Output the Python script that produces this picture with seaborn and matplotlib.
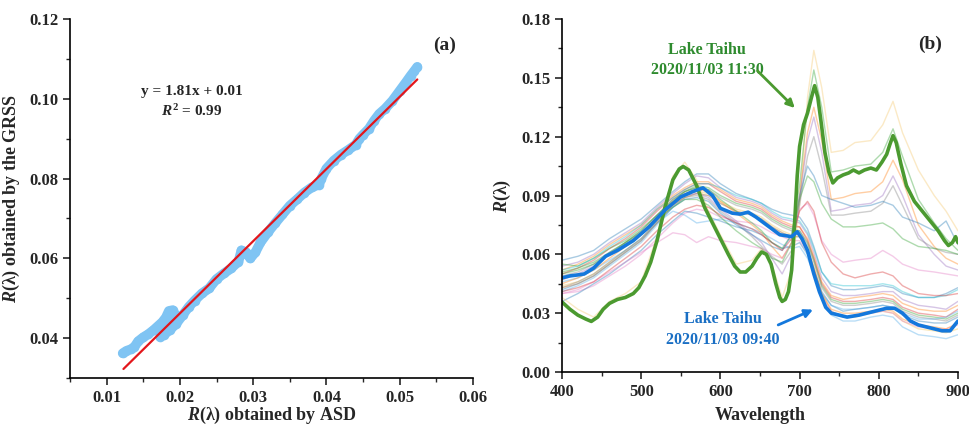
import matplotlib
matplotlib.use("Agg")
import matplotlib.pyplot as plt
from matplotlib.ticker import MultipleLocator, FormatStrFormatter
import seaborn as sns

# ---------------- panel (a): GRSS vs ASD reflectance ----------------
asd = [0.0122, 0.0127, 0.0133, 0.0138, 0.0143, 0.0150, 0.0157, 0.0164, 0.0170, 0.0176,
       0.0181, 0.0185, 0.0190, 0.0194, 0.0190, 0.0183, 0.0176, 0.0173, 0.0178, 0.0186,
       0.0195, 0.0204, 0.0212, 0.0220, 0.0230, 0.0240, 0.0250, 0.0260, 0.0270, 0.0280,
       0.0284, 0.0290, 0.0296, 0.0303, 0.0310, 0.0320, 0.0330, 0.0340, 0.0350, 0.0360,
       0.0370, 0.0380, 0.0390, 0.0393, 0.0400, 0.0410, 0.0420, 0.0430, 0.0440, 0.0445,
       0.0450, 0.0458, 0.0465, 0.0472, 0.0480, 0.0490, 0.0500, 0.0508, 0.0515, 0.0520,
       0.0524]
grss = [0.0362, 0.0368, 0.0372, 0.0378, 0.0392, 0.0402, 0.0410, 0.0420, 0.0430, 0.0440,
        0.0452, 0.0468, 0.0470, 0.0458, 0.0445, 0.0430, 0.0415, 0.0403, 0.0408, 0.0420,
        0.0436, 0.0458, 0.0478, 0.0494, 0.0512, 0.0525, 0.0548, 0.0562, 0.0575, 0.0592,
        0.0620, 0.0615, 0.0600, 0.0615, 0.0640, 0.0665, 0.0688, 0.0710, 0.0732, 0.0748,
        0.0765, 0.0778, 0.0785, 0.0800, 0.0825, 0.0845, 0.0860, 0.0872, 0.0885, 0.0900,
        0.0910, 0.0925, 0.0945, 0.0962, 0.0975, 0.0995, 0.1020, 0.1040, 0.1058, 0.1070,
        0.1080]
fit_slope = 1.81
fit_intercept = 0.01
fit_r2 = 0.99
fit_x = [0.0123, 0.0524]

# ---------------- panel (b): reflectance spectra ----------------
wl = [400, 420, 440, 460, 480, 500, 520, 540, 555, 570, 585, 600, 620, 640, 652,
      665, 678, 690, 700, 710, 718, 728, 740, 755, 770, 790, 805, 818, 830, 850,
      870, 885, 900]

spectra = [
    # clear-water type spectra
    ("#1f77b4", [.057, .059, .062, .068, .073, .078, .085, .092, .097, .101, .101, .096, .091, .088, .086,
                 .083, .081, .080, .079, .073, .064, .051, .044, .042, .042, .043, .044, .043, .040, .038,
                 .038, .040, .043]),
    ("#9467bd", [.054, .056, .060, .066, .071, .076, .084, .091, .096, .100, .099, .094, .089, .087, .085,
                 .081, .078, .077, .076, .070, .061, .048, .041, .039, .039, .040, .041, .041, .037, .034,
                 .033, .032, .036]),
    ("#ff7f0e", [.052, .055, .059, .065, .070, .075, .083, .090, .094, .097, .097, .093, .088, .086, .084,
                 .080, .077, .075, .074, .068, .059, .046, .039, .037, .038, .039, .040, .039, .035, .032,
                 .031, .031, .034]),
    ("#d62728", [.050, .053, .057, .063, .068, .074, .082, .089, .093, .096, .096, .092, .087, .085, .083,
                 .079, .076, .074, .074, .067, .058, .045, .038, .036, .036, .037, .038, .037, .033, .030,
                 .029, .028, .032]),
    ("#2ca02c", [.055, .054, .058, .063, .067, .073, .080, .088, .092, .095, .094, .090, .086, .084, .082,
                 .078, .075, .073, .072, .066, .057, .044, .037, .035, .035, .036, .037, .036, .032, .029,
                 .028, .027, .030]),
    ("#7f7f7f", [.049, .051, .055, .061, .066, .072, .080, .088, .092, .094, .093, .089, .085, .083, .081,
                 .077, .074, .072, .072, .065, .056, .043, .036, .034, .034, .035, .036, .035, .031, .028,
                 .027, .026, .029]),
    ("#f2c04a", [.044, .046, .050, .056, .062, .068, .077, .086, .090, .092, .091, .087, .083, .081, .079,
                 .075, .072, .070, .070, .063, .054, .040, .031, .028, .028, .030, .031, .030, .026, .022,
                 .021, .020, .022]),
    ("#4aa8e8", [.041, .044, .048, .054, .060, .066, .075, .084, .089, .091, .090, .086, .082, .080, .078,
                 .074, .071, .069, .069, .062, .053, .039, .029, .026, .026, .028, .029, .028, .023, .019,
                 .018, .017, .019]),
    ("#e377c2", [.040, .041, .044, .049, .054, .060, .068, .076, .081, .083, .082, .079, .077, .076, .074,
                 .071, .069, .067, .067, .061, .052, .039, .031, .028, .029, .030, .031, .030, .026, .023,
                 .022, .022, .024]),
    ("#1f77b4", [.036, .040, .045, .050, .056, .062, .070, .077, .082, .081, .079, .077, .074, .072, .070,
                 .066, .063, .064, .066, .060, .052, .041, .034, .031, .032, .033, .034, .033, .029, .026,
                 .025, .025, .028]),
    ("#4aa8e8", [.046, .048, .052, .057, .062, .068, .076, .082, .080, .076, .077, .078, .076, .073, .071,
                 .068, .065, .063, .064, .058, .050, .040, .034, .032, .032, .033, .034, .033, .030, .027,
                 .027, .028, .031]),
    ("#17becf", [.052, .054, .058, .064, .069, .075, .083, .089, .093, .096, .096, .094, .090, .088, .086,
                 .082, .079, .078, .077, .071, .063, .051, .045, .044, .044, .044, .045, .044, .041, .038,
                 .038, .039, .042]),
    ("#ff7f0e", [.043, .045, .049, .055, .061, .067, .076, .085, .089, .091, .090, .086, .082, .080, .078,
                 .074, .071, .069, .069, .062, .053, .040, .032, .030, .030, .031, .032, .031, .027, .024,
                 .023, .022, .025]),
    # bloom type spectra
    ("#f5c76a", [.038, .032, .028, .036, .040, .046, .069, .100, .107, .098, .082, .070, .055, .057, .063,
                 .055, .038, .052, .085, .140, .164, .145, .112, .113, .117, .118, .126, .138, .122, .103,
                 .090, .082, .072]),
    ("#2ca02c", [.050, .052, .055, .060, .066, .072, .080, .087, .092, .094, .093, .088, .082, .076, .072,
                 .066, .063, .070, .095, .135, .154, .135, .102, .103, .105, .106, .112, .124, .110, .088,
                 .076, .068, .062]),
    ("#ff7f0e", [.045, .048, .052, .058, .064, .070, .079, .087, .091, .093, .092, .087, .081, .075, .071,
                 .064, .058, .066, .090, .122, .135, .118, .088, .089, .091, .092, .097, .108, .098, .075,
                 .064, .058, .055]),
    ("#9467bd", [.047, .050, .054, .060, .065, .071, .079, .086, .090, .091, .089, .083, .077, .070, .066,
                 .058, .050, .060, .088, .118, .130, .112, .082, .083, .085, .086, .090, .100, .090, .070,
                 .060, .054, .052]),
    ("#7f7f7f", [.043, .046, .050, .056, .062, .068, .077, .085, .089, .090, .088, .082, .076, .069, .064,
                 .059, .055, .062, .085, .110, .120, .104, .080, .080, .081, .082, .086, .095, .085, .068,
                 .063, .061, .060]),
    ("#1f77b4", [.042, .045, .049, .055, .061, .067, .076, .084, .088, .089, .087, .081, .075, .070, .067,
                 .064, .062, .070, .090, .105, .100, .090, .088, .086, .084, .085, .087, .085, .079, .076,
                 .072, .077, .065]),
    ("#2ca02c", [.051, .053, .056, .061, .066, .071, .078, .084, .088, .088, .085, .079, .072, .066, .063,
                 .058, .056, .066, .088, .100, .097, .086, .078, .074, .074, .075, .076, .073, .068, .064,
                 .063, .062, .060]),
    ("#e377c2", [.040, .042, .046, .051, .056, .061, .066, .071, .070, .066, .069, .067, .066, .064, .063,
                 .060, .058, .066, .083, .086, .080, .067, .060, .056, .057, .058, .062, .059, .055, .052,
                 .051, .050, .049]),
    ("#d62728", [.041, .043, .046, .052, .058, .064, .072, .079, .083, .085, .084, .080, .076, .073, .070,
                 .066, .062, .068, .082, .087, .082, .066, .056, .050, .048, .050, .051, .049, .044, .040,
                 .039, .039, .040]),
]

# highlighted spectra
green_wl = [400, 410, 420, 430, 437, 445, 452, 460, 470, 480,
            490, 497, 505, 512, 520, 530, 540, 548, 553, 560,
            570, 580, 590, 600, 610, 618, 625, 632, 640, 646,
            652, 658, 664, 670, 675, 678, 682, 686, 690, 694,
            697, 700, 705, 710, 715, 719, 723, 727, 732, 737,
            742, 748, 755, 762, 768, 775, 782, 790, 797, 804,
            810, 814, 818, 822, 828, 835, 845, 855, 865, 875,
            883, 888, 893, 897, 900]
green_r = [.0357, .032, .029, .027, .0258, .028, .032, .035, .037, .038,
           .040, .043, .049, .056, .067, .084, .098, .1035, .1048, .103,
           .095, .084, .076, .068, .060, .054, .051, .051, .054, .058,
           .0612, .060, .055, .045, .038, .036, .037, .041, .052, .078,
           .100, .115, .126, .132, .140, .146, .140, .128, .112, .102,
           .0964, .099, .1005, .1015, .103, .1015, .103, .104, .103, .107,
           .111, .116, .1205, .117, .106, .095, .087, .082, .077, .072,
           .067, .0645, .066, .069, .066]
blue_wl = [400, 410, 420, 428, 440, 455, 470, 490, 510, 530,
           550, 565, 578, 590, 600, 615, 625, 635, 645, 660,
           675, 690, 697, 703, 710, 718, 725, 733, 740, 750,
           760, 775, 795, 810, 820, 830, 840, 850, 865, 880,
           890, 900]
blue_r = [.048, .049, .0495, .050, .053, .059, .062, .067, .074, .0826,
          .0893, .092, .0939, .090, .0835, .081, .0805, .0815, .079, .0745,
          .070, .069, .0715, .068, .062, .050, .041, .033, .030, .029,
          .028, .029, .031, .0325, .0325, .030, .026, .024, .0225, .021,
          .021, .026]
green_label = "Lake Taihu\n2020/11/03 11:30"
blue_label = "Lake Taihu\n2020/11/03 09:40"

# ---------------- style ----------------
sns.set_style("ticks")
plt.rcParams.update({
    "font.family": ["Liberation Serif", "DejaVu Serif"],
    "font.weight": "bold",
    "axes.labelweight": "bold",
    "mathtext.fontset": "custom",
    "mathtext.rm": "Liberation Serif:bold",
    "mathtext.it": "Liberation Serif:italic:bold",
    "mathtext.bf": "Liberation Serif:bold",
    "axes.linewidth": 1.2,
    "axes.edgecolor": "black",
})

GREEN = "#4b9a30"
GREEN_TXT = "#2e8b2e"
BLUE = "#1478dc"
BLUE_TXT = "#1a6fc4"
DOTS = "#7fc4f3"

fig = plt.figure(figsize=(9.69, 4.25), dpi=100)
ax1 = fig.add_axes([0.0722, 0.1106, 0.4159, 0.8447])
ax2 = fig.add_axes([0.5800, 0.1247, 0.4086, 0.8306])

# panel (a)
sns.lineplot(x=asd, y=grss, sort=False, estimator=None, ax=ax1, color=DOTS,
             lw=7, solid_capstyle="round", solid_joinstyle="round")
sns.scatterplot(x=asd, y=grss, ax=ax1, color=DOTS, s=48, linewidth=0, marker="o")
fit_y = [fit_slope * v + fit_intercept for v in fit_x]
sns.lineplot(x=fit_x, y=fit_y, ax=ax1, color="#e3161b", lw=1.6)

ax1.set_xlim(0.005, 0.06)
ax1.set_ylim(0.03, 0.12)
ax1.xaxis.set_major_locator(MultipleLocator(0.01))
ax1.xaxis.set_minor_locator(MultipleLocator(0.005))
ax1.yaxis.set_major_locator(MultipleLocator(0.02))
ax1.yaxis.set_minor_locator(MultipleLocator(0.01))
ax1.xaxis.set_major_formatter(FormatStrFormatter("%.2f"))
ax1.yaxis.set_major_formatter(FormatStrFormatter("%.2f"))
ax1.set_xlabel(r"$\mathit{R}$(λ) obtained by ASD", fontsize=13, labelpad=-1)
ax1.set_ylabel(r"$\mathit{R}$(λ) obtained by the GRSS", fontsize=13, labelpad=5)
ax1.text(0.0216, 0.1018, f"y = {fit_slope:.2f}x + {fit_intercept:.2f}",
         ha="center", va="center", fontsize=11, fontweight="bold")
ax1.text(0.0216, 0.0968, r"$\mathit{R}^{2}$" + f" = {fit_r2:.2f}",
         ha="center", va="center", fontsize=11, fontweight="bold")
ax1.text(0.0561, 0.1135, "(a)", ha="center", va="center", fontsize=14, fontweight="bold")

# panel (b)
for color, vals in spectra:
    sns.lineplot(x=wl, y=vals, ax=ax2, color=color, alpha=0.38, lw=1.0,
                 estimator=None, sort=False)
sns.lineplot(x=green_wl, y=green_r, ax=ax2, color=GREEN, lw=2.6, estimator=None, sort=False)
sns.lineplot(x=blue_wl, y=blue_r, ax=ax2, color=BLUE, lw=2.6, estimator=None, sort=False)

ax2.text(583, 0.159, green_label, ha="center", va="center", fontsize=11.5,
         fontweight="bold", color=GREEN_TXT, linespacing=1.35)
ax2.annotate("", xy=(694, 0.1346), xytext=(647, 0.1535),
             arrowprops=dict(arrowstyle="-|>", color=GREEN, lw=2, mutation_scale=12,
                             shrinkA=0, shrinkB=0))
ax2.text(603, 0.0217, blue_label, ha="center", va="center", fontsize=11.5,
         fontweight="bold", color=BLUE_TXT, linespacing=1.35)
ax2.annotate("", xy=(717, 0.0318), xytext=(673, 0.024),
             arrowprops=dict(arrowstyle="-|>", color=BLUE, lw=2, mutation_scale=12,
                             shrinkA=0, shrinkB=0))
ax2.text(865, 0.167, "(b)", ha="center", va="center", fontsize=14, fontweight="bold")

ax2.set_xlim(400, 900)
ax2.set_ylim(0, 0.18)
ax2.xaxis.set_major_locator(MultipleLocator(100))
ax2.xaxis.set_minor_locator(MultipleLocator(50))
ax2.yaxis.set_major_locator(MultipleLocator(0.03))
ax2.yaxis.set_minor_locator(MultipleLocator(0.015))
ax2.yaxis.set_major_formatter(FormatStrFormatter("%.2f"))
ax2.set_xlabel("Wavelength", fontsize=13, labelpad=5)
ax2.set_ylabel(r"$\mathit{R}$(λ)", fontsize=13, labelpad=6)

for ax in (ax1, ax2):
    sns.despine(ax=ax)
    ax.tick_params(which="major", direction="out", length=5, width=1.2, labelsize=12)
    ax.tick_params(which="minor", direction="out", length=3, width=1.0)
    for lab in ax.get_xticklabels() + ax.get_yticklabels():
        lab.set_fontweight("bold")

fig.savefig("out.png", dpi=100)
